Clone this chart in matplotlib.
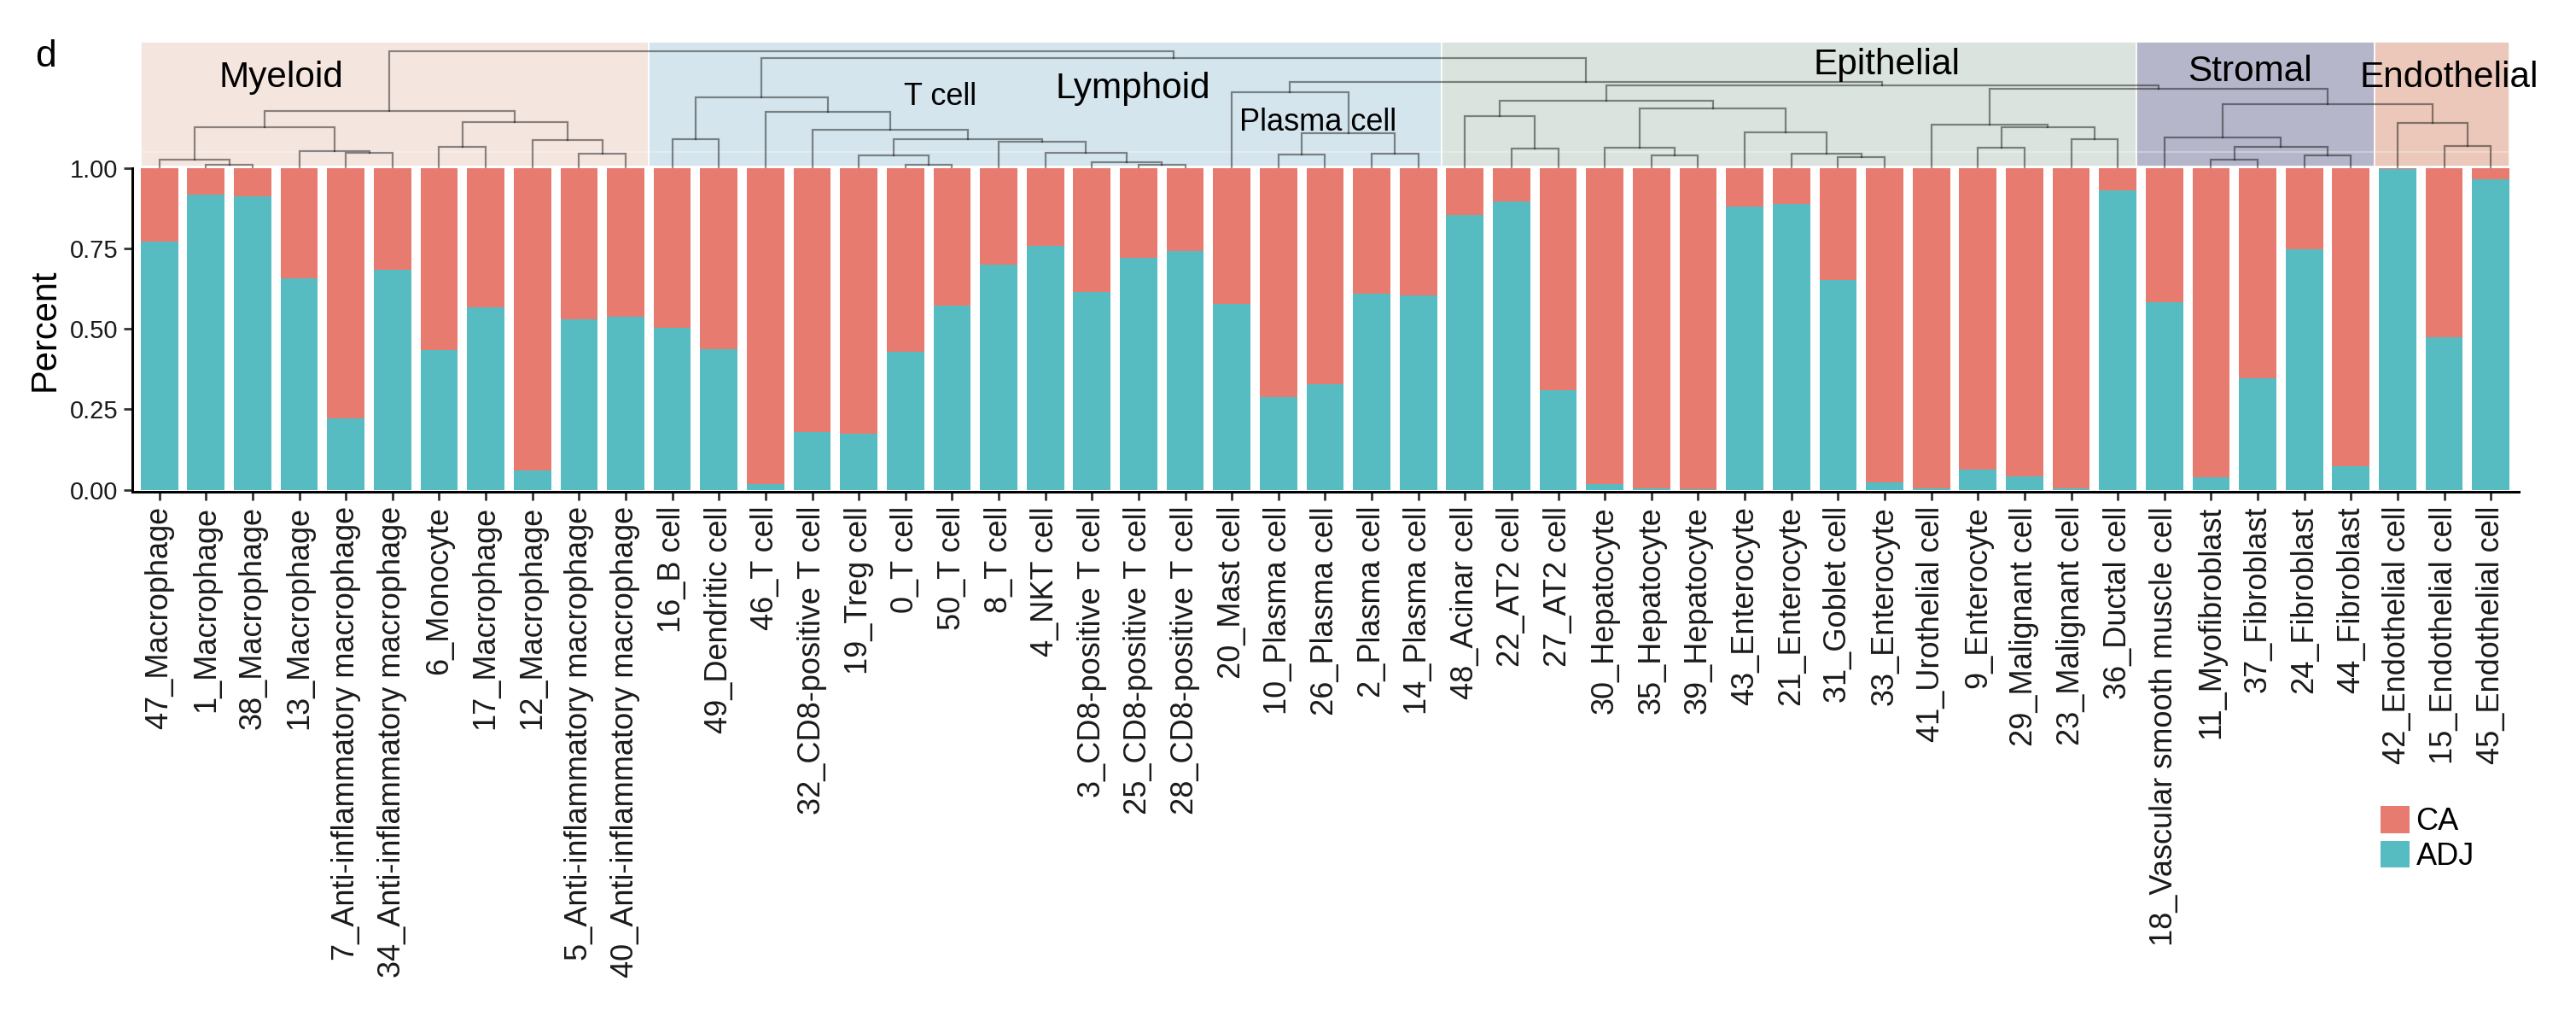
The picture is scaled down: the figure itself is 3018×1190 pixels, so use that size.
import matplotlib
matplotlib.use("Agg")
import matplotlib.pyplot as plt
from matplotlib.patches import Rectangle, Patch
import numpy as np

plt.rcParams['font.family'] = ['Liberation Sans', 'DejaVu Sans']

# ---------------- data ----------------
cell_labels = [
    "47_Macrophage", "1_Macrophage", "38_Macrophage", "13_Macrophage",
    "7_Anti-inflammatory macrophage", "34_Anti-inflammatory macrophage",
    "6_Monocyte", "17_Macrophage", "12_Macrophage",
    "5_Anti-inflammatory macrophage", "40_Anti-inflammatory macrophage",
    "16_B cell", "49_Dendritic cell", "46_T cell", "32_CD8-positive T cell",
    "19_Treg cell", "0_T cell", "50_T cell", "8_T cell", "4_NKT cell",
    "3_CD8-positive T cell", "25_CD8-positive T cell", "28_CD8-positive T cell",
    "20_Mast cell", "10_Plasma cell", "26_Plasma cell", "2_Plasma cell",
    "14_Plasma cell", "48_Acinar cell", "22_AT2 cell", "27_AT2 cell",
    "30_Hepatocyte", "35_Hepatocyte", "39_Hepatocyte", "43_Enterocyte",
    "21_Enterocyte", "31_Goblet cell", "33_Enterocyte", "41_Urothelial cell",
    "9_Enterocyte", "29_Malignant cell", "23_Malignant cell", "36_Ductal cell",
    "18_Vascular smooth muscle cell", "11_Myofibroblast", "37_Fibroblast",
    "24_Fibroblast", "44_Fibroblast", "42_Endothelial cell",
    "15_Endothelial cell", "45_Endothelial cell",
]

adj_frac = [
    0.770, 0.918, 0.913, 0.658, 0.222, 0.684, 0.433, 0.566, 0.060, 0.530, 0.539,
    0.504, 0.438, 0.018, 0.179, 0.174, 0.429, 0.573, 0.700, 0.759, 0.615, 0.722,
    0.743, 0.578, 0.289, 0.328, 0.608, 0.605, 0.853, 0.897, 0.310, 0.018, 0.004,
    0.002, 0.881, 0.887, 0.651, 0.023, 0.004, 0.062, 0.041, 0.004, 0.929, 0.582,
    0.039, 0.348, 0.748, 0.073, 0.996, 0.475, 0.965,
]
ca_frac = [
    0.230, 0.082, 0.087, 0.342, 0.778, 0.316, 0.567, 0.434, 0.940, 0.470, 0.461,
    0.496, 0.562, 0.982, 0.821, 0.826, 0.571, 0.427, 0.300, 0.241, 0.385, 0.278,
    0.257, 0.422, 0.711, 0.672, 0.392, 0.395, 0.147, 0.103, 0.690, 0.982, 0.996,
    0.998, 0.119, 0.113, 0.349, 0.977, 0.996, 0.938, 0.959, 0.996, 0.071, 0.418,
    0.961, 0.652, 0.252, 0.927, 0.004, 0.525, 0.035,
]

series_names = ["CA", "ADJ"]
series_colors = {"CA": "#E87B70", "ADJ": "#56BCC1"}

# compartment groups: (name, first bar index, last bar index)
groups = [
    ("Myeloid", 0, 10),
    ("Lymphoid", 11, 27),
    ("Epithelial", 28, 42),
    ("Stromal", 43, 47),
    ("Endothelial", 48, 50),
]
group_colors = ["#F4E5DF", "#D5E5ED", "#DAE3DE", "#B6B6CB", "#EBC8BA"]

# dendrogram merges: (node, left child, right child, height); ints are leaves
merges = [
    ("m1", 1, 2, 0.024), ("m2", 0, "m1", 0.068), ("m3", 4, 5, 0.129),
    ("m4", 3, "m3", 0.144), ("m5", "m2", "m4", 0.349), ("m6", 6, 7, 0.183),
    ("m7", 9, 10, 0.122), ("m8", 8, "m7", 0.239), ("m9", "m6", "m8", 0.390),
    ("myeloid", "m5", "m9", 0.488),
    ("l1", 11, 12, 0.244), ("l2", 16, 17, 0.029), ("l3", 15, "l2", 0.105),
    ("l4", 21, 22, 0.024), ("l5", 20, "l4", 0.051), ("l6", 19, "l5", 0.127),
    ("l7", 18, "l6", 0.227), ("l8", "l3", "l7", 0.249), ("l9", 14, "l8", 0.324),
    ("l10", 13, "l9", 0.480), ("l11", "l1", "l10", 0.602),
    ("p1", 24, 25, 0.115), ("p2", 26, 27, 0.122), ("p3", "p1", "p2", 0.300),
    ("p4", 23, "p3", 0.646),
    ("e1", 29, 30, 0.166), ("e2", 28, "e1", 0.444), ("e3", 32, 33, 0.110),
    ("e4", 31, "e3", 0.171), ("e5", 36, 37, 0.093), ("e6", 35, "e5", 0.122),
    ("e7", 34, "e6", 0.305), ("e8", "e4", "e7", 0.507), ("e9", "e2", "e8", 0.573),
    ("e10", 39, 40, 0.176), ("e11", 41, 42, 0.244), ("e12", "e10", "e11", 0.349),
    ("e13", 38, "e12", 0.373),
    ("s1", 44, 45, 0.073), ("s2", 46, 47, 0.105), ("s3", "s1", "s2", 0.183),
    ("s4", 43, "s3", 0.263), ("n1", 49, 50, 0.188), ("n2", 48, "n1", 0.385),
    ("s5", "s4", "n2", 0.546),
    ("z1", "e13", "s5", 0.676), ("z2", "e9", "z1", 0.707), ("z3", "p4", "z2", 0.734),
    ("z4", "l11", "z3", 0.939), ("root", "myeloid", "z4", 1.000),
]

# ---------------- figure ----------------
W, H, DPI = 3018, 1190, 200
fig = plt.figure(figsize=(W / DPI, H / DPI), dpi=DPI)

def px_box(x0, y0, x1, y1):
    return [x0 / W, 1 - y1 / H, (x1 - x0) / W, (y1 - y0) / H]

ax = fig.add_axes(px_box(155, 196.7, 2951, 576))
axd = fig.add_axes(px_box(155, 49, 2951, 196.7), sharex=ax)

n = len(cell_labels)
x = np.arange(n)
bw = 0.8
ax.bar(x, adj_frac, width=bw, color=series_colors["ADJ"], linewidth=0)
ax.bar(x, ca_frac, width=bw, bottom=adj_frac, color=series_colors["CA"], linewidth=0)

ax.set_xlim(-0.58, n - 1 + 0.6)
ax.set_ylim(-0.006, 1.0)
ax.set_yticks([0, 0.25, 0.5, 0.75, 1.0])
ax.set_yticklabels(["0.00", "0.25", "0.50", "0.75", "1.00"])
ax.set_xticks(x)
ax.set_xticklabels(cell_labels, rotation=90, fontsize=13, color="#1a1a1a")
ax.tick_params(axis='y', labelsize=10.5, length=3.6, width=1.0, color="#333333",
               pad=2.5, labelcolor="#1a1a1a")
ax.tick_params(axis='x', length=3.6, width=1.0, color="#333333", pad=2.5)
for s in ["top", "right"]:
    ax.spines[s].set_visible(False)
for s in ["left", "bottom"]:
    ax.spines[s].set_linewidth(1.1)
    ax.spines[s].set_color("black")
ax.set_ylabel("Percent", fontsize=15, labelpad=3)

# ---------------- dendrogram ----------------
root_frac = (196.7 - 60) / (196.7 - 49)
axd.set_ylim(0, 1.0 / root_frac)
axd.axis("off")

ytop = 1.0 / root_frac
for (gname, g0, g1), gc in zip(groups, group_colors):
    left = g0 - 0.5 if g0 > 0 else -0.4
    right = g1 + 0.5 if g1 < n - 1 else n - 1 + 0.4
    if gname == "Epithelial":
        right = g1 + 0.4
    if gname == "Stromal":
        left = g0 - 0.6
    axd.add_patch(Rectangle((left, 0.012), right - left, ytop - 0.012,
                            facecolor=gc, edgecolor="white", linewidth=0.6, zorder=0))
axd.plot([-0.4, n - 1 + 0.4], [0.137, 0.137], color="white", alpha=0.35, lw=0.6, zorder=1)

pos = {i: float(i) for i in range(n)}
hgt = {i: 0.0 for i in range(n)}
for name, a, b, h in merges:
    xa, xb = pos[a], pos[b]
    axd.plot([xa, xa, xb, xb], [hgt[a], h, h, hgt[b]], color="black", alpha=0.44,
             lw=0.8, solid_joinstyle="miter", zorder=2)
    pos[name] = (xa + xb) / 2
    hgt[name] = h

def hb(y_px):
    return (196.7 - y_px) / (196.7 - 60)

axd.text(2.62, hb(101.7), "Myeloid", fontsize=15.2, ha="center", va="baseline", zorder=3)
axd.text(20.87, hb(115), "Lymphoid", fontsize=15.2, ha="center", va="baseline", zorder=3)
axd.text(16.75, hb(123.3), "T cell", fontsize=13, ha="center", va="baseline", zorder=3)
axd.text(24.85, hb(153.3), "Plasma cell", fontsize=13, ha="center", va="baseline", zorder=3)
axd.text(37.05, hb(86.7), "Epithelial", fontsize=15.2, ha="center", va="baseline", zorder=3)
axd.text(44.83, hb(95), "Stromal", fontsize=15.2, ha="center", va="baseline", zorder=3)
axd.text(49.1, hb(101.7), "Endothelial", fontsize=15.2, ha="center", va="baseline",
         zorder=3, clip_on=False)

fig.text(41 / W, 1 - 78 / H, "d", fontsize=16, ha="left", va="baseline")

handles = [Patch(facecolor=series_colors[s], edgecolor="none") for s in series_names]
fig.legend(handles, series_names, loc="upper left",
           bbox_to_anchor=(2789 / W, 1 - 944 / H), frameon=False, fontsize=13,
           handlelength=0.95, handleheight=0.97, handletextpad=0.2,
           labelspacing=0.12, borderpad=0, borderaxespad=0)

fig.savefig("out.png", dpi=DPI)
